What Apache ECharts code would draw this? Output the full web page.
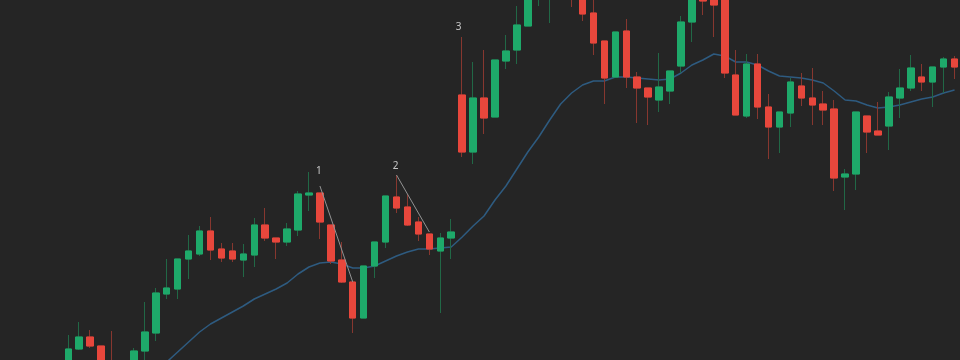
<!DOCTYPE html>
<html>
<head>
<meta charset="utf-8">
<script src="https://cdn.jsdelivr.net/npm/echarts@6/dist/echarts.min.js"></script>
<style>
  html, body { margin: 0; padding: 0; background: #252525; }
  #chart { width: 960px; height: 360px; }
</style>
</head>
<body>
<div id="chart"></div>
<script>
// ---- Data (price units, arbitrary linear scale) ----
const categories = Array.from({ length: 82 }, (_, i) => 'D' + (i + 1));

const openValues = [
  99.5, 101.1, 102.3, 101.4, 99.8, 97.5, 99.0, 100.9, 102.7, 106.6,
  107.1, 110.1, 110.6, 112.9, 111.1, 110.9, 110.0, 110.5, 113.5, 112.2,
  111.8, 113.0, 116.5, 116.7, 113.5, 110.0, 107.8, 104.2, 109.4, 111.8,
  116.3, 115.3, 113.8, 112.6, 110.9, 112.2, 126.5, 120.8, 126.2, 124.3,
  129.9, 131.0, 133.4, 136.8, 136.5, 139.0, 138.0, 137.0, 134.7, 131.9,
  128.3, 132.9, 128.3, 127.2, 126.0, 126.9, 129.4, 133.8, 137.2, 136.8,
  138.0, 128.5, 124.4, 129.6, 125.3, 123.3, 124.7, 127.4, 126.2, 125.6,
  125.1, 118.3, 118.6, 124.4, 122.9, 123.4, 126.2, 127.2, 128.3, 127.8,
  129.3, 130.1
];
const closeValues = [
  101.1, 102.3, 101.4, 98.8, 98.0, 99.2, 100.9, 102.8, 106.7, 107.2,
  110.1, 110.9, 112.9, 111.0, 110.2, 110.1, 110.6, 113.5, 112.2, 111.8,
  113.1, 116.6, 116.7, 113.8, 109.9, 107.8, 104.2, 109.4, 111.8, 116.4,
  115.2, 113.5, 112.6, 111.1, 112.2, 112.8, 120.8, 126.2, 124.2, 130.0,
  130.9, 133.5, 137.5, 139.0, 138.5, 137.5, 136.5, 134.6, 131.7, 128.2,
  132.8, 128.3, 127.2, 126.3, 127.3, 128.9, 133.8, 137.0, 135.9, 135.5,
  128.7, 124.5, 129.6, 125.3, 123.3, 124.8, 127.8, 126.2, 125.5, 125.0,
  118.2, 118.6, 124.8, 122.8, 122.5, 126.3, 127.2, 129.2, 127.8, 129.3,
  130.1, 129.3
];
const highValues = [
  102.5, 103.8, 103.0, 101.4, 102.9, 99.7, 101.2, 105.8, 107.2, 110.1,
  110.1, 112.5, 113.4, 114.3, 111.7, 111.7, 111.6, 114.2, 115.2, 112.2,
  113.7, 116.9, 118.8, 116.7, 113.5, 111.8, 107.8, 109.4, 111.8, 116.4,
  118.5, 116.6, 114.3, 112.6, 112.7, 114.1, 132.3, 129.8, 131.0, 130.0,
  132.5, 135.4, 138.0, 139.5, 139.0, 140.0, 138.5, 137.5, 136.5, 131.9,
  132.8, 134.1, 128.8, 127.2, 130.7, 128.9, 134.4, 137.5, 137.8, 137.4,
  138.5, 131.0, 130.6, 130.6, 126.6, 124.8, 128.2, 128.7, 129.2, 126.9,
  126.0, 119.1, 124.8, 124.4, 125.8, 126.8, 129.1, 130.5, 129.6, 129.3,
  130.3, 130.4
];
const lowValues = [
  99.0, 101.0, 101.2, 98.2, 97.4, 96.8, 98.5, 99.5, 101.9, 106.1,
  106.1, 108.1, 110.4, 110.0, 109.8, 109.8, 108.3, 109.3, 111.9, 110.1,
  111.4, 112.4, 114.9, 112.1, 109.6, 107.7, 102.7, 104.2, 108.2, 111.2,
  114.7, 113.4, 111.9, 110.5, 104.7, 110.1, 120.3, 119.6, 122.6, 124.3,
  129.1, 129.6, 133.4, 135.4, 133.7, 136.5, 135.3, 133.9, 130.5, 125.6,
  128.3, 127.2, 123.7, 123.5, 124.8, 125.6, 128.7, 131.8, 134.5, 132.3,
  128.2, 124.5, 124.2, 124.1, 120.1, 120.7, 123.3, 125.4, 123.5, 123.5,
  116.9, 115.0, 117.0, 120.7, 122.5, 121.0, 124.2, 126.9, 126.9, 125.3,
  126.7, 128.1
];
const maValues = [
  '-', '-', '-', '-', '-', '-', '-', 97.8, 98.8, 99.8,
  100.8, 101.8, 102.8, 103.6, 104.2, 104.8, 105.4, 106.1, 106.6, 107.1,
  107.7, 108.6, 109.3, 109.7, 109.8, 109.6, 109.2, 109.2, 109.4, 109.9,
  110.4, 110.8, 111.1, 111.1, 111.2, 111.3, 112.3, 113.4, 114.4, 116.0,
  117.4, 119.1, 120.8, 122.3, 124.0, 125.6, 126.7, 127.5, 127.9, 127.9,
  128.3, 128.3, 128.2, 128.1, 128.0, 128.1, 128.7, 129.5, 130.0, 130.6,
  130.4, 129.8, 129.8, 129.5, 128.9, 128.4, 128.3, 128.2, 128.0, 127.7,
  126.9, 126.0, 125.9, 125.5, 125.2, 125.3, 125.5, 125.8, 126.1, 126.3,
  126.7, 127.0
];
// annotation trend lines: [startIndex, startValue, endIndex, endValue]
const trendLines = [
  [23, 117.4, 26, 107.8],
  [30, 118.5, 33, 112.8],
  [46, 141.9, 49, 131.9]
];
// annotation labels: [index, value, text]
const labelMarks = [
  [23, 118.9, '1'],
  [30, 119.4, '2'],
  [36, 133.3, '3']
];

// ---- Build series data ----
const ohlc = categories.map((_, i) => [openValues[i], closeValues[i], lowValues[i], highValues[i]]);
const bodies = categories.map((_, i) => [
  openValues[i], closeValues[i],
  Math.min(openValues[i], closeValues[i]), Math.max(openValues[i], closeValues[i])
]);

const UP = '#1ea96a', DOWN = '#e8473c';
const UP_WICK = '#216846', DOWN_WICK = '#87372f';

const chart = echarts.init(document.getElementById('chart'), null, { renderer: 'canvas' });
chart.setOption({
  backgroundColor: '#252525',
  animation: false,
  grid: { left: 62.8, width: 899.4, top: 0, bottom: 0 },
  xAxis: {
    type: 'category', data: categories, boundaryGap: true, show: false
  },
  yAxis: {
    type: 'value', min: 100, max: 136, show: false, splitLine: { show: false }
  },
  series: [
    {
      name: 'wicks', type: 'candlestick', data: ohlc, barWidth: 7, clip: true,
      itemStyle: {
        color: 'rgba(0,0,0,0)', color0: 'rgba(0,0,0,0)',
        borderColor: UP_WICK, borderColor0: DOWN_WICK, borderWidth: 1
      },
      silent: true
    },
    {
      name: 'bodies', type: 'candlestick', data: bodies, barWidth: 7, clip: true,
      itemStyle: {
        color: UP, color0: DOWN, borderColor: UP, borderColor0: DOWN, borderWidth: 1
      },
      silent: true,
      markLine: {
        silent: true, symbol: ['none', 'none'], animation: false,
        label: { show: false },
        lineStyle: { color: '#939393', width: 1, type: 'solid' },
        emphasis: { disabled: true },
        data: trendLines.map(t => [{ coord: [t[0], t[1]] }, { coord: [t[2], t[3]] }])
      }
    },
    {
      name: 'MA', type: 'line', data: maValues, symbol: 'none', smooth: false,
      lineStyle: { color: '#2e5b80', width: 1.5 }, z: 1, silent: true
    },
    {
      name: 'labels', type: 'scatter', symbolSize: 1, silent: true,
      itemStyle: { color: 'rgba(0,0,0,0)' },
      data: labelMarks.map(l => ({
        value: [l[0], l[1], l[2]],
        label: { offset: l[2] === '3' ? [-3.5, 0] : [-1, 0] }
      })),
      label: {
        show: true, position: 'inside', formatter: p => p.value[2],
        color: '#ececec', fontSize: 10, fontFamily: 'Noto Sans, sans-serif'
      }
    }
  ]
});
</script>
</body>
</html>
